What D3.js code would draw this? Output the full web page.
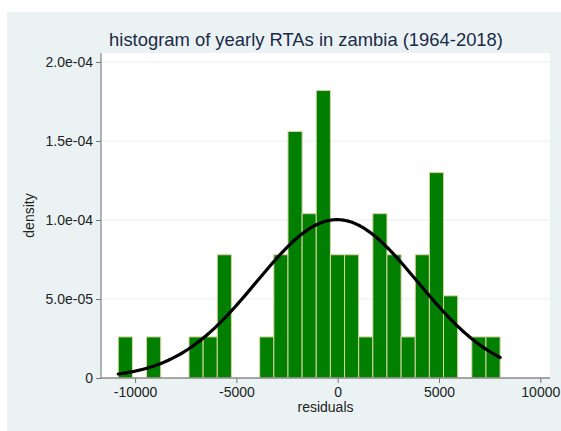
<!DOCTYPE html>
<html><head><meta charset="utf-8">
<script src="https://cdn.jsdelivr.net/npm/d3@7"></script>
<style>body{margin:0;background:#fff}svg{display:block}text{font-family:"Liberation Sans",Arial,sans-serif}</style>
</head><body>
<svg id="c" width="561" height="431"></svg>
<script>
// bin lower edges (residuals) and densities
const binStart = -10830;
const binWidth = 698;
const densities = [2.6e-5,0,2.6e-5,0,0,2.6e-5,2.6e-5,7.8e-5,0,0,2.6e-5,7.8e-5,1.56e-4,1.04e-4,1.82e-4,7.8e-5,7.8e-5,2.6e-5,1.04e-4,7.8e-5,2.6e-5,7.8e-5,1.3e-4,5.2e-5,0,2.6e-5,2.6e-5];
const xTicks = [-10000,-5000,0,5000,10000];
const yTicks = [0,5e-5,1e-4,1.5e-4,2e-4];
const yTickLabels = ["0","5.0e-05","1.0e-04","1.5e-04","2.0e-04"];
const normMean = -30, normSd = 3980;
const title = "histogram of yearly RTAs in zambia (1964-2018)";

const svg = d3.select("#c");
svg.append("rect").attr("x",7).attr("y",12).attr("width",554).attr("height",419).attr("fill","#eaf2f3");
const L=101,R=550,T=53,B=378;
svg.append("rect").attr("x",L).attr("y",T).attr("width",R-L).attr("height",B-T).attr("fill","#fff");

const x = d3.scaleLinear().domain([-10000,10000]).range([135.1,540.3]);
const y = d3.scaleLinear().domain([0,2e-4]).range([B,62]);

// gridlines
svg.append("g").selectAll("line").data(yTicks.slice(1)).join("line")
  .attr("x1",L).attr("x2",R).attr("y1",d=>y(d)).attr("y2",d=>y(d))
  .attr("stroke","#e6eff1").attr("stroke-width",1);

// bars
const bins = densities.map((d,i)=>({x0:binStart+i*binWidth,x1:binStart+(i+1)*binWidth,d}));
svg.append("g").selectAll("rect").data(bins.filter(b=>b.d>0)).join("rect")
  .attr("x",b=>x(b.x0)).attr("width",b=>x(b.x1)-x(b.x0))
  .attr("y",b=>y(b.d)).attr("height",b=>y(0)-y(b.d))
  .attr("fill","#007f00").attr("stroke","#d9d3a3").attr("stroke-width",1);

// normal curve
const x0 = binStart, x1 = binStart+densities.length*binWidth;
const pts = d3.range(0,201).map(i=>{const v=x0+(x1-x0)*i/200;return [v,Math.exp(-0.5*((v-normMean)/normSd)**2)/(normSd*Math.sqrt(2*Math.PI))];});
svg.append("path").datum(pts)
  .attr("d",d3.line().x(d=>x(d[0])).y(d=>y(d[1])).curve(d3.curveBasis))
  .attr("fill","none").attr("stroke","#000").attr("stroke-width",3.2).attr("stroke-linecap","round");

// axes
const xa = svg.append("g").attr("transform",`translate(0,${B})`)
  .call(d3.axisBottom(x).tickValues(xTicks).tickFormat(d3.format("d")).tickSize(5).tickPadding(4));
xa.select(".domain").attr("d",`M${L},0H${R}`);
const ya = svg.append("g").attr("transform",`translate(${L},0)`)
  .call(d3.axisLeft(y).tickValues(yTicks).tickFormat((d,i)=>yTickLabels[i]).tickSize(5).tickPadding(3));
ya.select(".domain").attr("d",`M0,${T}V${B}`);
[xa,ya].forEach(a=>{
  a.select(".domain").attr("stroke","#8a8a8a").attr("stroke-width",1.3);
  a.selectAll(".tick line").attr("stroke","#777");
  a.selectAll("text").attr("font-size",14).attr("fill","#222").attr("font-family","Liberation Sans, Arial, sans-serif");
});
xa.selectAll(".tick text").text(d=>d<0?"-"+Math.abs(d):String(d));

svg.append("text").attr("x",(L+R)/2).attr("y",412).attr("text-anchor","middle")
  .attr("font-size",14).attr("fill","#222").text("residuals");
svg.append("text").attr("transform",`translate(34,${(T+B)/2}) rotate(-90)`).attr("text-anchor","middle")
  .attr("font-size",14).attr("fill","#222").text("density");
svg.append("text").attr("x",306).attr("y",46).attr("text-anchor","middle")
  .attr("font-size",18.4).attr("fill","#1c2a48").text(title);
</script>
</body></html>
